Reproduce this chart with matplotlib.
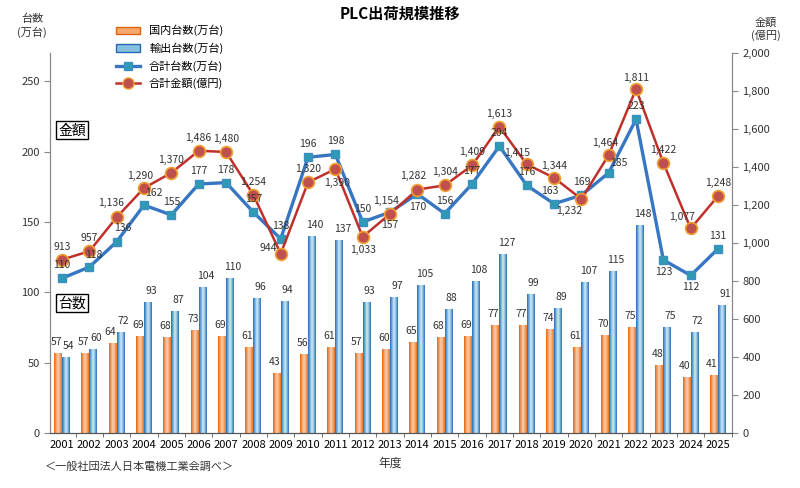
import matplotlib.pyplot as plt
import numpy as np
from matplotlib.colors import LinearSegmentedColormap
from matplotlib.patches import Patch
from matplotlib.lines import Line2D
from matplotlib.ticker import FuncFormatter, MultipleLocator

plt.rcParams['font.family'] = ['Noto Sans CJK JP', 'DejaVu Sans']

years = [str(y) for y in range(2001, 2026)]
domestic = [57, 57, 64, 69, 68, 73, 69, 61, 43, 56, 61, 57, 60, 65, 68, 69, 77, 77, 74, 61, 70, 75, 48, 40, 41]
export = [54, 60, 72, 93, 87, 104, 110, 96, 94, 140, 137, 93, 97, 105, 88, 108, 127, 99, 89, 107, 115, 148, 75, 72, 91]
total = [110, 118, 136, 162, 155, 177, 178, 157, 138, 196, 198, 150, 157, 170, 156, 177, 204, 176, 163, 169, 185, 223, 123, 112, 131]
amount = [913, 957, 1136, 1290, 1370, 1486, 1480, 1254, 944, 1320, 1390, 1033, 1154, 1282, 1304, 1409, 1613, 1415, 1344, 1232, 1464, 1811, 1422, 1077, 1248]

x = np.arange(len(years))
w = 0.29

fig = plt.figure(figsize=(8, 4.88), dpi=100)
ax = fig.add_axes([0.0625, 0.1127, 0.8525, 0.7783])
ax2 = ax.twinx()

# gradient fills for the bars
cm_or = LinearSegmentedColormap.from_list('or', ['#E0620A', '#F59B5C', '#FCD2B2', '#F8A86E', '#E56D14'])
cm_bl = LinearSegmentedColormap.from_list('bl', ['#2466B2', '#6FAED8', '#D8EEF8', '#86C0DF', '#2466B2'])
grad = np.linspace(0, 1, 64).reshape(1, -1)

b1 = ax.bar(x - w / 2, domestic, w, color='none', edgecolor='none')
b2 = ax.bar(x + w / 2, export, w, color='none', edgecolor='none')
for bars, cm in ((b1, cm_or), (b2, cm_bl)):
    for r in bars:
        x0, y0 = r.get_x(), r.get_y()
        im = ax.imshow(grad, cmap=cm, aspect='auto', interpolation='bicubic',
                       extent=(x0, x0 + r.get_width(), y0, y0 + r.get_height()), zorder=2)
        im.set_clip_path(r)

for i in range(len(years)):
    ax.annotate(str(domestic[i]), (x[i] - w / 2, domestic[i]), xytext=(-2, 11), textcoords='offset pixels',
                ha='center', va='center', fontsize=7.5, color='#333333')
    ax.annotate(str(export[i]), (x[i] + w / 2, export[i]), xytext=(3, 11), textcoords='offset pixels',
                ha='center', va='center', fontsize=7.5, color='#333333')

ax.set_xlim(-0.44, 24.51)
ax.set_ylim(0, 270)
ax2.set_ylim(0, 2000)

scale = 2000 / 270
ax2.plot(x, np.array(total) * scale, color='#3776C2', lw=2.4, marker='s', ms=6,
         mfc='#2E9AB4', mec='#3C8FC0', zorder=3)
ax2.plot(x, amount, color='#C0302A', lw=1.8, marker='o', ms=8.5,
         mfc='#C0504D', mec='#F0A030', mew=1.2, zorder=4)

# label offsets in pixels (dx, dy)
total_off = {1: (4, 12), 2: (6, 14), 3: (10, 12), 12: (0, -13), 13: (0, -13), 18: (-4, 13),
             20: (10, 10), 22: (0, -12), 23: (0, -12)}
for i, v in enumerate(total):
    dx, dy = total_off.get(i, (0, 13))
    ax2.annotate(str(v), (x[i], v * scale), xytext=(dx, dy), textcoords='offset pixels',
                 ha='center', va='center', fontsize=7.5, color='#333333', zorder=5)

amount_off = {2: (-6, 14), 3: (-4, 12), 8: (-12, 6), 10: (2, -14), 11: (0, -13), 12: (-4, 13),
              13: (-4, 14), 17: (-10, 11), 18: (0, 12), 19: (-12, -12), 20: (-4, 12), 21: (0, 11),
              23: (-9, 11)}
for i, v in enumerate(amount):
    dx, dy = amount_off.get(i, (0, 13))
    ax2.annotate(f'{v:,}', (x[i], v), xytext=(dx, dy), textcoords='offset pixels',
                 ha='center', va='center', fontsize=7.5, color='#333333', zorder=5)

ax.set_xticks(x)
ax.set_xticklabels(years, fontsize=8)
ax.xaxis.set_minor_locator(MultipleLocator(1, offset=0.5))
ax.tick_params(axis='x', which='major', length=0, pad=5)
ax.tick_params(axis='x', which='minor', length=3, color='#555555')
ax.set_yticks(range(0, 251, 50))
ax.tick_params(axis='y', labelsize=8, length=4, color='#888888', labelcolor='#333333')
ax2.set_yticks(range(0, 2001, 200))
ax2.yaxis.set_major_formatter(FuncFormatter(lambda v, p: f'{int(v):,}'))
ax2.tick_params(axis='y', labelsize=8, length=4, color='#888888', labelcolor='#333333')

for a in (ax, ax2):
    a.spines['top'].set_visible(False)
    a.spines['left'].set_color('#888888')
    a.spines['right'].set_color('#888888')
    a.spines['bottom'].set_color('#555555')

box = dict(boxstyle='square,pad=0.15', fc='white', ec='black', lw=1)
ax.text(0.012, 0.797, '金額', transform=ax.transAxes, fontsize=10, ha='left', va='center', bbox=box, zorder=6)
ax.text(0.012, 0.342, '台数', transform=ax.transAxes, fontsize=10, ha='left', va='center', bbox=box, zorder=6)

fig.text(0.5, 0.972, 'PLC出荷規模推移', ha='center', va='center', fontsize=11, fontweight='bold')
fig.text(0.04, 0.947, '台数\n(万台)', ha='center', va='center', fontsize=8, color='#333333', linespacing=1.3)
fig.text(0.957, 0.94, '金額\n(億円)', ha='center', va='center', fontsize=8, color='#333333', linespacing=1.3)
fig.text(0.488, 0.05, '年度', ha='center', va='center', fontsize=8.5, color='#333333')
fig.text(0.056, 0.043, '＜一般社団法人日本電機工業会調べ＞', ha='left', va='center', fontsize=8, color='#333333')

handles = [Patch(fc='#F8A86E', ec='#E0620A'), Patch(fc='#86C0DF', ec='#2466B2'),
           Line2D([], [], color='#3776C2', lw=2.4, marker='s', ms=6, mfc='#2E9AB4', mec='#3C8FC0'),
           Line2D([], [], color='#C0302A', lw=1.8, marker='o', ms=8, mfc='#C0504D', mec='#F0A030')]
labels = ['国内台数(万台)', '輸出台数(万台)', '合計台数(万台)', '合計金額(億円)']
fig.legend(handles, labels, loc='upper left', bbox_to_anchor=(0.135, 0.965), frameon=False,
           fontsize=8, handlelength=2.2, handleheight=0.6, labelspacing=0.55, borderpad=0.2)

fig.savefig('out.png', dpi=100)
